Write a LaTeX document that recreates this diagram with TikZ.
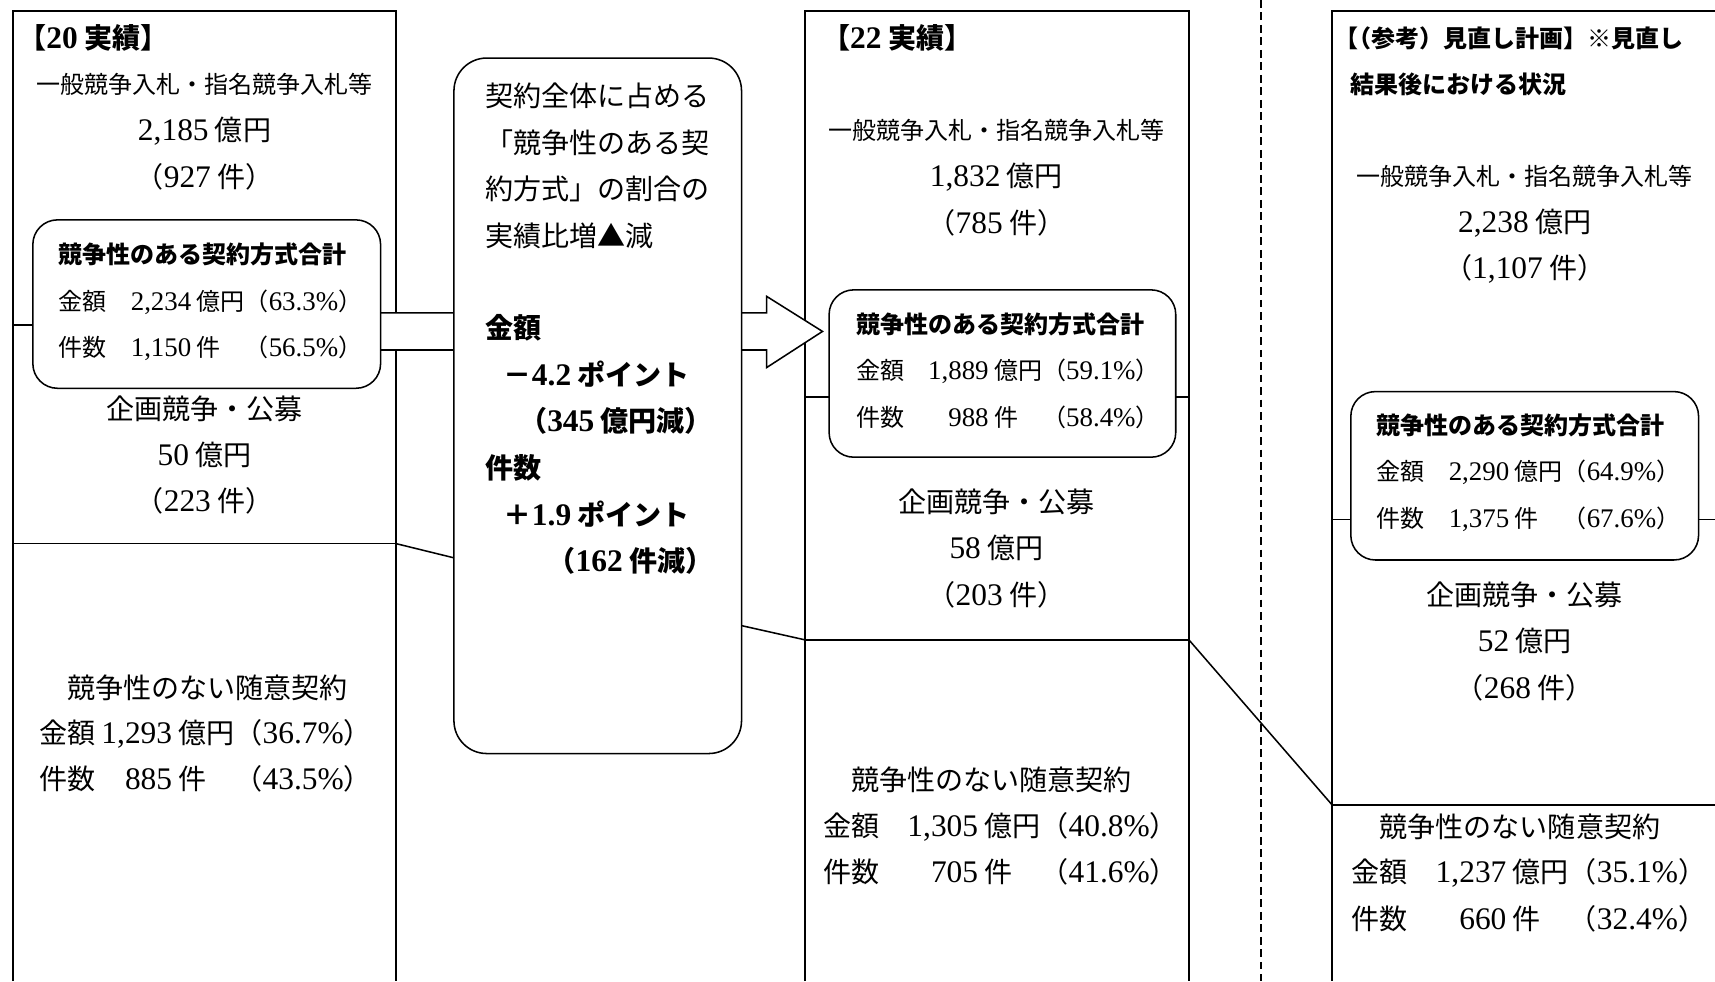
\documentclass[tikz,border=0pt]{standalone}
\usepackage{fontspec}
\setmainfont{Liberation Serif}
\newfontfamily\jp{Noto Sans CJK JP}
\newfontfamily\numf{Liberation Serif}[Scale=1.12]
\newcommand{\nm}[1]{{\numf #1}}
\begin{document}
\begin{tikzpicture}[x=0.02cm,y=-0.02cm,line width=0.8pt,
  sm/.style={font=\jp\fontsize{12.5}{15}\selectfont,inner sep=0pt},
  lg/.style={font=\jp\fontsize{14.6}{17}\selectfont,inner sep=0pt},
  smb/.style={font=\jp\bfseries\fontsize{12.5}{15}\selectfont,inner sep=0pt},
  lgb/.style={font=\jp\bfseries\fontsize{14.6}{17}\selectfont,inner sep=0pt},
  tot/.style={draw,fill=white,rounded corners=0.45cm,minimum width=6.36cm,minimum height=3.08cm,inner sep=0pt},
  ratio/.style={draw,fill=white,rounded corners=0.6cm,minimum width=5.26cm,minimum height=12.72cm,inner sep=0pt}]
\useasboundingbox (0,0) rectangle (1568,897);

% columns
\draw (12,897) -- (12,10) -- (362,10) -- (362,897);
\draw (12,297) -- (362,297);
\draw (12,497) -- (362,497);
\draw (736,897) -- (736,10) -- (1087,10) -- (1087,897);
\draw (736,363) -- (1087,363);
\draw (736,585) -- (1087,585);
\draw (1568,10) -- (1218,10) -- (1218,897);
\draw (1218,475) -- (1568,475);
\draw (1218,736) -- (1568,736);
\draw[dash pattern=on 4pt off 2.5pt] (1153,0) -- (1153,897);

% block arrow
\draw[fill=white] (340,286) -- (701,286) -- (701,271) -- (752,303) -- (701,336) -- (701,320) -- (340,320) -- cycle;

\node[tot] (boxA) at (189,278) {};
\node[ratio] (mid) at (546.5,371) {};
\node[tot,minimum width=6.34cm,minimum height=3.06cm] (boxB) at (916.5,341.5) {};
\node[tot] (boxC) at (1394,435) {};

\coordinate (aDiv) at (362,497);
\coordinate (midL) at (415,510);
\coordinate (midR) at (678,572);
\coordinate (bDivL) at (736,585);
\coordinate (bDivR) at (1087,585);
\coordinate (cDiv) at (1218,736);
\draw (aDiv) -- (midL);
\draw (midR) -- (bDivL);
\draw (bDivR) -- (cDiv);

% 20
\node[lgb,anchor=west] (aHead) at (16,35) {【\nm{20} 実績】};
\node[sm] (aGen) at (187,77) {一般競争入札・指名競争入札等};
\node[lg] (aGenAmt) at (187,120) {\nm{2,185} 億円};
\node[lg] (aGenCnt) at (187,162) {（\nm{927} 件）};
\node[smb,anchor=west] (aTot) at (53,233) {競争性のある契約方式合計};
\node[sm,anchor=west] (aTotAmt) at (53,276) {金額　\nm{2,234} 億円（\nm{63.3\%}）};
\node[sm,anchor=west] (aTotCnt) at (53,318) {件数　\nm{1,150} 件　（\nm{56.5\%}）};
\node[lg] (aPlan) at (187,374) {企画競争・公募};
\node[lg] (aPlanAmt) at (187,416) {\nm{50} 億円};
\node[lg] (aPlanCnt) at (187,458) {（\nm{223} 件）};
\node[lg,anchor=west] (aFree) at (35,629) {　競争性のない随意契約};
\node[lg,anchor=west] (aFreeAmt) at (35,671) {金額 \nm{1,293} 億円（\nm{36.7\%}）};
\node[lg,anchor=west] (aFreeCnt) at (35,713) {件数 \nm{\phantom{1,}885} 件　（\nm{43.5\%}）};

% ratio
\foreach \t [count=\i] in {契約全体に占める,「競争性のある契,約方式」の割合の,実績比増▲減}
  \node[lg,anchor=west] (m\i) at (443,45.5+42.5*\i) {\t};
\node[lgb,anchor=west] (m5) at (443,300) {金額};
\node[lgb,anchor=west] (m6) at (460,342) {－\nm{4.2} ポイント};
\node[lgb,anchor=west] (m7) at (474,385) {（\nm{345} 億円減）};
\node[lgb,anchor=west] (m8) at (443,428) {件数};
\node[lgb,anchor=west] (m9) at (460,470) {＋\nm{1.9} ポイント};
\node[lgb,anchor=west] (m10) at (500,513) {（\nm{162} 件減）};

% 22
\node[lgb,anchor=west] (bHead) at (751,35) {【\nm{22} 実績】};
\node[sm] (bGen) at (911,119) {一般競争入札・指名競争入札等};
\node[lg] (bGenAmt) at (911,162) {\nm{1,832} 億円};
\node[lg] (bGenCnt) at (911,204) {（\nm{785} 件）};
\node[smb,anchor=west] (bTot) at (782,297) {競争性のある契約方式合計};
\node[sm,anchor=west] (bTotAmt) at (782,339) {金額　\nm{1,889} 億円（\nm{59.1\%}）};
\node[sm,anchor=west] (bTotCnt) at (782,382) {件数　\nm{\phantom{1,}988} 件　（\nm{58.4\%}）};
\node[lg] (bPlan) at (911,459) {企画競争・公募};
\node[lg] (bPlanAmt) at (911,501) {\nm{58} 億円};
\node[lg] (bPlanCnt) at (911,544) {（\nm{203} 件）};
\node[lg,anchor=west] (bFree) at (752,713) {　競争性のない随意契約};
\node[lg,anchor=west] (bFreeAmt) at (752,756) {金額　\nm{1,305} 億円（\nm{40.8\%}）};
\node[lg,anchor=west] (bFreeCnt) at (752,798) {件数　\nm{\phantom{1,}705} 件　（\nm{41.6\%}）};

% plan
\node[smb,anchor=west] (cHead) at (1219,35) {【\kern-0.45em（参考）見直し計画】※見直し};
\node[smb,anchor=west] (cHead2) at (1234,77) {結果後における状況};
\node[sm] (cGen) at (1394,161) {一般競争入札・指名競争入札等};
\node[lg] (cGenAmt) at (1394,204) {\nm{2,238} 億円};
\node[lg] (cGenCnt) at (1394,246) {（\nm{1,107} 件）};
\node[smb,anchor=west] (cTot) at (1258,389) {競争性のある契約方式合計};
\node[sm,anchor=west] (cTotAmt) at (1258,432) {金額　\nm{2,290} 億円（\nm{64.9\%}）};
\node[sm,anchor=west] (cTotCnt) at (1258,475) {件数　\nm{1,375} 件　（\nm{67.6\%}）};
\node[lg] (cPlan) at (1394,544) {企画競争・公募};
\node[lg] (cPlanAmt) at (1394,586) {\nm{52} 億円};
\node[lg] (cPlanCnt) at (1394,629) {（\nm{268} 件）};
\node[lg,anchor=west] (cFree) at (1235,756) {　競争性のない随意契約};
\node[lg,anchor=west] (cFreeAmt) at (1235,798) {金額　\nm{1,237} 億円（\nm{35.1\%}）};
\node[lg,anchor=west] (cFreeCnt) at (1235,841) {件数　\nm{\phantom{1,}660} 件　（\nm{32.4\%}）};
\end{tikzpicture}
\end{document}
